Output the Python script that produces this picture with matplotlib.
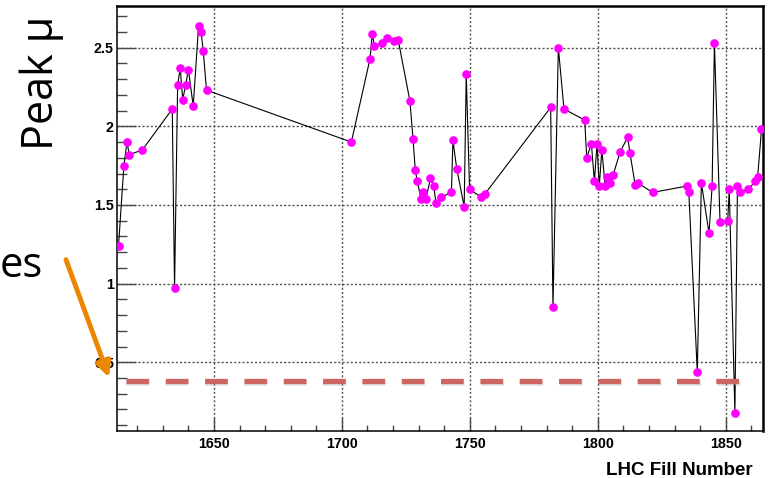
import matplotlib
matplotlib.use("Agg")
import matplotlib.pyplot as plt
from matplotlib.patches import FancyArrowPatch
from matplotlib.ticker import MultipleLocator

# LHC fill number vs peak pileup
fill = [1612.7, 1614.8, 1616.0, 1616.9, 1622.0, 1633.7, 1634.6, 1635.8, 1636.8,
        1637.8, 1638.9, 1640.0, 1641.9, 1644.0, 1645.0, 1645.8, 1647.1,
        1703.7, 1711.0, 1711.9, 1712.7, 1715.6, 1717.5, 1720.5, 1722.0,
        1726.6, 1727.8, 1728.7, 1729.5, 1730.9, 1731.8, 1732.9, 1734.6,
        1735.9, 1736.8, 1738.9, 1742.8, 1743.4, 1744.9, 1747.8, 1748.6,
        1749.9, 1754.4, 1755.9,
        1781.6, 1782.5, 1784.6, 1786.8, 1794.9, 1795.7, 1797.5, 1798.7,
        1799.7, 1800.6, 1801.6, 1802.9, 1803.8, 1804.7, 1806.0, 1808.8,
        1811.7, 1812.6, 1814.6, 1815.6, 1821.5, 1834.8, 1835.6, 1838.9,
        1840.5, 1843.5, 1844.7, 1845.6, 1847.8, 1850.8, 1851.4, 1853.6,
        1854.6, 1855.6, 1858.8, 1861.6, 1862.5, 1864.0]
peak_mu = [1.24, 1.75, 1.90, 1.82, 1.85, 2.11, 0.97, 2.26, 2.37,
           2.17, 2.26, 2.36, 2.13, 2.64, 2.60, 2.48, 2.23,
           1.90, 2.43, 2.59, 2.51, 2.53, 2.56, 2.54, 2.55,
           2.16, 1.92, 1.72, 1.65, 1.54, 1.58, 1.54, 1.67,
           1.62, 1.51, 1.55, 1.58, 1.91, 1.73, 1.49, 2.33,
           1.60, 1.55, 1.57,
           2.12, 0.85, 2.50, 2.11, 2.04, 1.80, 1.89, 1.65,
           1.89, 1.62, 1.85, 1.62, 1.68, 1.64, 1.69, 1.84,
           1.93, 1.83, 1.63, 1.64, 1.58, 1.62, 1.58, 0.44,
           1.64, 1.32, 1.62, 2.53, 1.39, 1.40, 1.60, 0.18,
           1.62, 1.58, 1.60, 1.65, 1.68, 1.98]

grid_x = [1650, 1700, 1750, 1800, 1850]
grid_y = [0.5, 1.0, 1.5, 2.0, 2.5]

threshold = 0.383
threshold_span = [1615.6, 1857.3]

fig = plt.figure(figsize=(7.71, 4.78), dpi=100)
ax = fig.add_axes([0.1514, 0.0983, 0.8386, 0.8898])

ax.plot(fill, peak_mu, color="black", lw=0.8, zorder=3)
ax.plot(fill, peak_mu, ls="none", marker="o", ms=5.2, color="#ff00ff",
        mec="#ff00ff", zorder=4)

ax.set_xlim(1612, 1864.7)
ax.set_ylim(0.063, 2.767)

ax.xaxis.set_major_locator(MultipleLocator(50))
ax.xaxis.set_minor_locator(MultipleLocator(10))
ax.yaxis.set_major_locator(MultipleLocator(0.5))
ax.yaxis.set_minor_locator(MultipleLocator(0.1))
ax.yaxis.set_major_formatter(plt.FuncFormatter(lambda v, p: f"{v:g}"))

ax.tick_params(axis="both", which="both", direction="in", color="#444444",
               width=1.0, labelsize=10.3)
ax.tick_params(axis="y", which="major", length=14, pad=2)
ax.tick_params(axis="y", which="minor", length=7)
ax.tick_params(axis="x", which="major", length=9.5, pad=4)
ax.tick_params(axis="x", which="minor", length=4.5)
for lab in ax.get_xticklabels() + ax.get_yticklabels():
    lab.set_fontweight("bold")
    lab.set_family("Liberation Sans")

# dotted grid at the major ticks
for xv in grid_x:
    ax.axvline(xv, color="#505050", lw=1.0, ls=(0, (1.5, 1.5)), zorder=2)
for yv in grid_y:
    ax.axhline(yv, color="#505050", lw=1.0, ls=(0, (1.5, 1.5)), zorder=2)

for side in ["top", "right"]:
    ax.spines[side].set_linewidth(1.8)
for side in ["left", "bottom"]:
    ax.spines[side].set_linewidth(1.1)

fig.text(0.9757, 0.0063, "LHC Fill Number", ha="right", va="baseline",
         fontsize=13.5, fontweight="bold", family="Liberation Sans")

# slide overlay: rotated label, cut-off word, arrow and dashed threshold
fig.text(0.0545, 0.827, "Peak μ", rotation=90, ha="center", va="center",
         fontsize=31, family="Open Sans")
fig.text(0.0558, 0.4205, "es", ha="right", va="baseline",
         fontsize=30, family="Open Sans")

ax.plot(threshold_span, [threshold - 0.014] * 2, color="#aaaaaa", alpha=0.35,
        lw=4.0, ls=(0, (4.1, 3.0)), solid_capstyle="butt", zorder=5)
ax.plot(threshold_span, [threshold] * 2, color="#cd6660", lw=3.8,
        ls=(0, (4.3, 3.15)), solid_capstyle="butt", zorder=6)

arrow = FancyArrowPatch((0.0843, 0.4623), (0.1427, 0.205),
                        transform=fig.transFigure, arrowstyle="-|>",
                        mutation_scale=22, lw=3.5, color="#ec8500")
fig.patches.append(arrow)

fig.savefig("out.png", dpi=100)
